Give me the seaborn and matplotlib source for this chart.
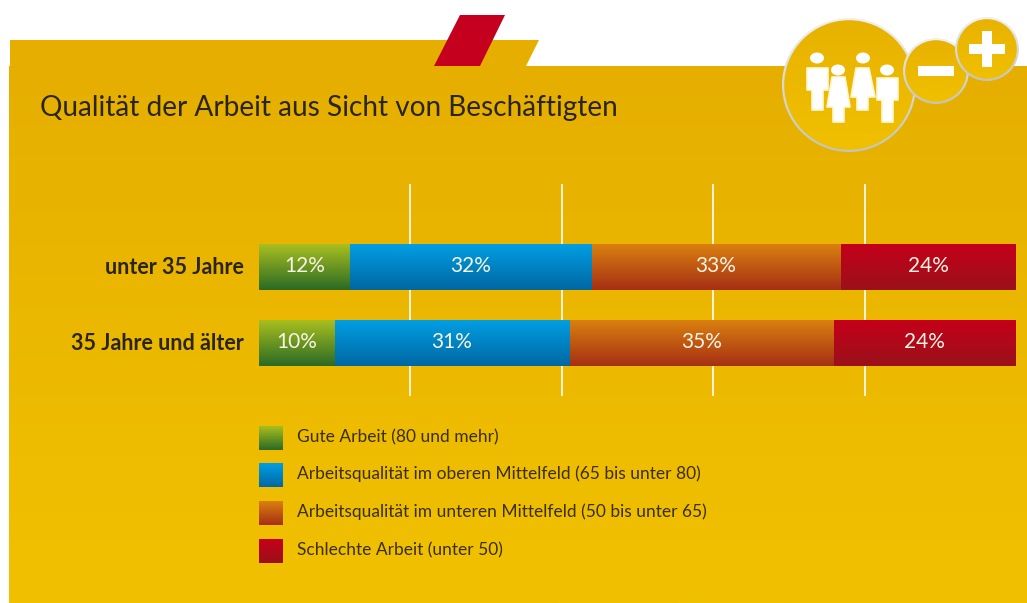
"""Qualitaet der Arbeit: gestapelte Balken mit Verlauf auf goldenem Panel."""

import numpy as np
import pandas as pd
import matplotlib
matplotlib.use("Agg")
import matplotlib.pyplot as plt
from matplotlib.colors import LinearSegmentedColormap
from matplotlib.patches import Circle, Polygon, Rectangle, Ellipse
from matplotlib.transforms import ScaledTranslation
import seaborn as sns

TITLE = "Qualität der Arbeit aus Sicht von Beschäftigten"
GROUPS = ["unter 35 Jahre", "35 Jahre und älter"]
CATEGORIES = [
    "Gute Arbeit (80 und mehr)",
    "Arbeitsqualität im oberen Mittelfeld (65 bis unter 80)",
    "Arbeitsqualität im unteren Mittelfeld (50 bis unter 65)",
    "Schlechte Arbeit (unter 50)",
]
# segment lengths, labels as printed
GUT = [12.0, 10.0]
OBEN = [31.9, 31.0]
UNTEN = [32.9, 34.9]
SCHLECHT = [23.2, 24.1]
LABELS = [["12%", "10%"], ["32%", "31%"], ["33%", "35%"], ["24%", "24%"]]
GRID_TICKS = [20, 40, 60, 80]

GRADIENTS = [
    ("#A9BF1F", "#2B6A25"),
    ("#009FE3", "#0067A3"),
    ("#DA8010", "#A62F14"),
    ("#C5001B", "#9A1119"),
]

W, H = 1027, 603
FONT = ["Lato", "Open Sans", "DejaVu Sans"]


def gradient(ax, extent, top, bottom, zorder, clip=None):
    """Vertical gradient image placed into an extent (left, right, low, high)."""
    cmap = LinearSegmentedColormap.from_list("g", [top, bottom])
    img = ax.imshow(np.linspace(0, 1, 256).reshape(-1, 1), cmap=cmap, extent=extent,
                    aspect="auto", origin="upper", zorder=zorder, interpolation="bilinear")
    if clip is not None:
        img.set_clip_path(clip)
    return img


sns.set_theme(style="white")
plt.rcParams["font.family"] = FONT

fig = plt.figure(figsize=(W / 100, H / 100), dpi=100, facecolor="white")

# background layer in pixel coordinates
bg = fig.add_axes([0, 0, 1, 1], zorder=0)
bg.set_axis_off()

bg.add_patch(Polygon([(10, 66), (10, 40), (539, 40), (526, 66)], closed=True, fc="#E6AF00", ec="none", zorder=1))
bg.add_patch(Polygon([(434, 66), (460, 15), (505, 15), (480, 66)], closed=True, fc="#C4001E", ec="none", zorder=2))
gradient(bg, (9, W, H, 66), "#E6AF00", "#F1C100", 1)

# icon discs, each one overlapping the previous
for n, (cx, cy, r) in enumerate([(849, 85, 67), (936, 71, 33), (987, 49, 32)]):
    ring = Circle((cx, cy), r, fc="none", ec="none", zorder=3 + n)
    bg.add_patch(ring)
    gradient(bg, (cx - r, cx + r, cy + r, cy - r), "#F0F0EC", "#C4C4C0", 3 + n, clip=ring)
    disc = Circle((cx, cy), r - 2.2, fc="none", ec="none", zorder=3.5 + n)
    bg.add_patch(disc)
    gradient(bg, (cx - r, cx + r, cy + r, cy - r), "#E8B200", "#F0C000", 3.5 + n, clip=disc)

# minus and plus
bg.add_patch(Rectangle((918, 66), 36, 10, fc="white", ec="none", zorder=7))
bg.add_patch(Rectangle((969, 44), 36, 10, fc="white", ec="none", zorder=7))
bg.add_patch(Rectangle((982, 31), 10, 36, fc="white", ec="none", zorder=7))

# the four people
people = [
    (817, 58, [(807, 68), (828, 68), (828, 90), (823, 90), (823, 110), (812, 110), (812, 90), (807, 90)]),
    (838, 70, [(832, 77), (845, 77), (850, 107), (844, 107), (844, 122), (833, 122), (833, 107), (827, 107)]),
    (863, 58, [(856, 68), (869, 68), (875, 97), (868, 97), (868, 110), (857, 110), (857, 97), (851, 97)]),
    (887, 70, [(877, 78), (898, 78), (898, 100), (893, 100), (893, 122), (882, 122), (882, 100), (877, 100)]),
]
for hx, hy, body in people:
    bg.add_patch(Ellipse((hx, hy), 14, 11, fc="white", ec="none", zorder=7))
    bg.add_patch(Polygon(body, closed=True, fc="white", ec="#FFF6D0", lw=1.2, joinstyle="round", zorder=7))

# legend swatches and texts
for cat, (top, bottom), y0 in zip(CATEGORIES, GRADIENTS, [426, 463, 501, 539]):
    gradient(bg, (259, 283, y0 + 24, y0), top, bottom, 3)
    bg.text(297, y0 + 11, cat, fontsize=12.5, color="#3A2F05", va="center", ha="left")

bg.text(40, 108, TITLE, fontsize=20.2, color="#2B2510", va="center", ha="left")
bg.set_xlim(0, W)
bg.set_ylim(H, 0)

# chart layer: x 259..1016, y 184..396 in pixels
ax = fig.add_axes([259 / W, 1 - 396 / H, (1016 - 259) / W, (396 - 184) / H], zorder=1)
ax.patch.set_alpha(0)

df = pd.DataFrame({"group": GROUPS, "gut": GUT, "oben": OBEN, "unten": UNTEN, "schlecht": SCHLECHT})
series = ["gut", "oben", "unten", "schlecht"]
cum = df[series].cumsum(axis=1)
cum["group"] = df["group"]

# stack by painting the longest cumulative bar first
for i in reversed(range(len(series))):
    sns.barplot(data=cum, y="group", x=series[i], color=GRADIENTS[i][0], width=46 / 76,
                saturation=1, orient="y", ax=ax, zorder=2 + (3 - i) * 2, errorbar=None, linewidth=0)

bars = list(ax.patches)
for n, patch in enumerate(bars):
    i = 3 - n // 2
    x0, y0 = patch.get_x(), patch.get_y()
    gradient(ax, (x0, x0 + patch.get_width(), y0 + patch.get_height(), y0),
             GRADIENTS[i][0], GRADIENTS[i][1], patch.get_zorder() + 0.5, clip=patch)

# value labels centred in each segment
lefts = np.zeros(2)
for i, s in enumerate(series):
    vals = df[s].to_numpy()
    for row in range(2):
        ax.text(lefts[row] + vals[row] / 2, row - 0.01, LABELS[i][row], ha="center", va="center",
                fontsize=15, color="#F7F3E3", zorder=20)
    lefts += vals

ax.set_xlim(0, 100)
ax.set_ylim((396 - 343) / 76 + 1, -(267 - 184) / 76)
ax.set_xticks(GRID_TICKS)
ax.set_xticklabels([])
ax.set_xlabel("")
ax.set_ylabel("")
ax.tick_params(axis="both", length=0)
ax.tick_params(axis="y", pad=10.8)
nudge = ScaledTranslation(0, 2 / 100, fig.dpi_scale_trans)
for lab in ax.get_yticklabels():
    lab.set_fontweight("bold")
    lab.set_fontsize(15.5)
    lab.set_color("#2B2510")
    lab.set_transform(lab.get_transform() + nudge)
ax.grid(axis="x", color="white", linewidth=1.2, zorder=0)
ax.grid(axis="y", visible=False)
ax.set_axisbelow(True)
sns.despine(ax=ax, left=True, bottom=True)

fig.savefig("out.png", dpi=100)
